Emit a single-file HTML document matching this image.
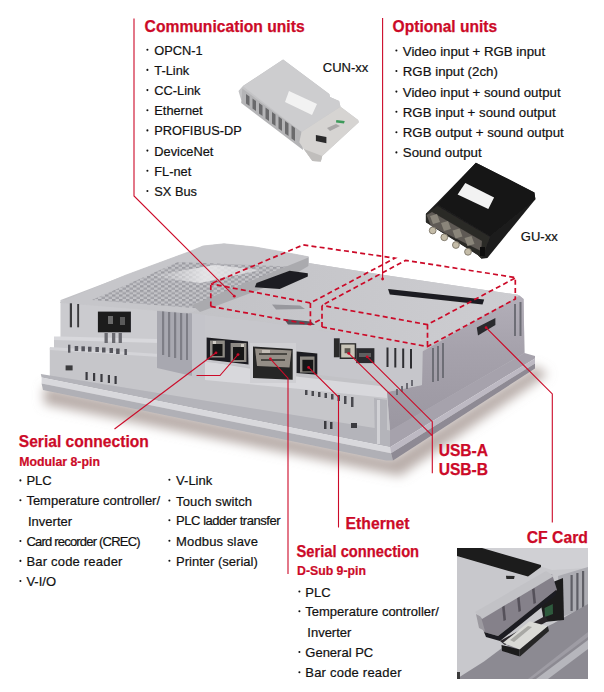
<!DOCTYPE html>
<html><head><meta charset="utf-8">
<style>
html,body{margin:0;padding:0;background:#fff;}
body{width:604px;height:692px;overflow:hidden;position:relative;}
svg{position:absolute;left:0;top:0;}
text{font-family:"Liberation Sans",sans-serif;}
.h{font-weight:bold;fill:#cc0a28;font-size:17px;stroke:#cc0a28;stroke-width:0.25px;}
.s{font-weight:bold;fill:#cc0a28;font-size:12.3px;stroke:#cc0a28;stroke-width:0.2px;}
.t{fill:#111;font-size:13px;stroke:#111;stroke-width:0.2px;}
.tl{font-size:12.8px;}
.tr{font-size:13.25px;}
.b{fill:#111;}
</style></head>
<body>
<svg width="604" height="692" viewBox="0 0 604 692">
<defs>
  <linearGradient id="gTop" x1="0" y1="0" x2="1" y2="0">
    <stop offset="0" stop-color="#c2c2c6"/><stop offset="1" stop-color="#cdcdd1"/>
  </linearGradient>
  <linearGradient id="gFront" x1="0" y1="0" x2="0" y2="1">
    <stop offset="0" stop-color="#c4c4c8"/><stop offset="1" stop-color="#b0b0b6"/>
  </linearGradient>
  <linearGradient id="gRight" gradientUnits="userSpaceOnUse" x1="0" y1="300" x2="0" y2="440">
    <stop offset="0" stop-color="#b2aeb8"/><stop offset="0.35" stop-color="#a6a2ac"/><stop offset="1" stop-color="#9a96a0"/>
  </linearGradient>
  <linearGradient id="gShadow" x1="0" y1="0" x2="0" y2="1">
    <stop offset="0" stop-color="#b8b4b6"/><stop offset="1" stop-color="#ffffff" stop-opacity="0"/>
  </linearGradient>
  <pattern id="vent" width="7" height="4.6" patternUnits="userSpaceOnUse">
    <rect width="7" height="4.6" fill="#c4c4c8"/><rect width="3.5" height="2.3" fill="#9c9ca2"/><rect x="3.5" y="2.3" width="3.5" height="2.3" fill="#a2a2a8"/>
  </pattern>
  <linearGradient id="gHi" x1="0" y1="0" x2="1" y2="0">
    <stop offset="0" stop-color="#e6e6e8" stop-opacity="0"/><stop offset="0.5" stop-color="#e8e8ea" stop-opacity="0.9"/><stop offset="1" stop-color="#e6e6e8" stop-opacity="0.6"/>
  </linearGradient>
  <filter id="blur6" x="-20%" y="-50%" width="140%" height="200%"><feGaussianBlur stdDeviation="5.5"/></filter>
  <filter id="soft" x="-5%" y="-5%" width="110%" height="110%"><feGaussianBlur stdDeviation="0.45"/></filter>
</defs>

<!-- ===== Device ===== -->
<g filter="url(#soft)">
<!-- soft shadow under bezel -->
<g filter="url(#blur6)">
<polygon points="44,386 392,458 535,366 548,374 400,476 44,404" fill="#b0a4a0" opacity="0.9"/>
</g>
<!-- base silhouette -->
<polygon points="60.7,300 125,275.4 190,251.4 203,246 224,243.8 255,247 280,251.4 308.4,256.8 308.4,263 382.6,274.8 517.8,294.8 523.6,299 524.5,356.8 390,446 49.9,376 49.9,348 54,348 54,337.2 60.7,337.2" fill="#c2c2c6"/>
<!-- right face (whole) -->
<polygon points="422.5,351.5 519.5,295.6 523.6,299 524.5,353 390,431 387,392 422,385" fill="url(#gRight)"/>
<!-- lower front face -->
<polygon points="49.9,348 160,356 207,362 387,392 390,431 49.9,375.5" fill="#c6c6ca"/>
<polygon points="54,338 160,342 160,356 54,348" fill="#c8c8cc"/>
<polygon points="49.9,347 160,354 160,357 49.9,350" fill="#d4d4d8"/>
<!-- ledge under connector face -->
<polygon points="205,361 300,377 380,386 387,392 387,398 300,389 205,380" fill="#d8d8dc"/>
<!-- connector face -->
<polygon points="188.7,313 265,322 426.5,346.5 422.5,351.5 422,385 387,392 380,382 207,362 188.7,358" fill="#c6c6cb"/>
<!-- left upper block front -->
<polygon points="60.7,300 160,309 160,339 60.7,337.2" fill="#cbcbcf"/>
<!-- left ledge -->
<polygon points="54,336.5 60.7,336.5 160,339 160,343 54,340" fill="#d8d8dc"/>
<!-- ribbed pillar -->
<polygon points="157,309 190,310.5 192,312 192,376 157,368" fill="#a8a8b0"/>
<g fill="#7e7e86">
<rect x="162" y="311" width="2.2" height="44"/><rect x="168" y="312" width="2.2" height="45"/><rect x="174" y="312" width="2.2" height="46"/><rect x="180" y="313" width="2.2" height="47"/><rect x="186" y="313" width="2" height="47"/>
</g>
<rect x="192" y="312" width="13" height="66" fill="#c4c4ca"/>
<!-- top right surface -->
<polygon points="188.7,313 308.4,263 382.6,274.8 517.8,294.8 519.5,295.6 426.5,346.5 265,322" fill="url(#gTop)"/>
<!-- vent block top -->
<polygon points="60.3,302.5 125,275.4 190,251.4 203,246 224,243.8 255,247 280,251.4 308.4,256.8 308.4,263 188.7,313" fill="#c6c6ca" stroke="#c6c6ca" stroke-width="0.8"/>
<polygon points="92,300 178,262 300,267 205,309" fill="url(#vent)"/>
<polygon points="150,276 215,265 260,270 200,283" fill="url(#gHi)"/>
<!-- comm slot -->
<polygon points="192,305 308.4,257.5 308.4,266 285,280 200,312" fill="#aaaaae"/>
<polygon points="256.5,283 289.6,270.7 307.8,273.2 307.8,276.5 279.7,288.9 254.8,287.3" fill="#1e1e22"/>
<polygon points="272,304.5 300,305.5 305,309 276,309.5" fill="#8c8c92" opacity="0.8"/>
<polygon points="284,319 311,321.5 315,325 288,324.5" fill="#55555c"/>
<!-- slot on right top -->
<polygon points="388.1,289 484.2,299.6 482.5,304.6 389.8,294.6" fill="#1e1e20"/>
<!-- bezel -->
<polygon points="40.8,374 49.9,375.5 390,430.5 390,447.3 41.6,377.6" fill="#b4b4ba"/>
<polygon points="41.6,377.6 390,447.3 391,453.3 41.6,383.6" fill="#d8d8dc"/>
<polygon points="41.6,383.6 391,453.3 393,460.5 386,460.5 43,390" fill="#b0b0b6"/>
<polygon points="390,430.5 524.5,353 535,356 535,358.4 390,447.3" fill="#a6a2ac"/>
<polygon points="390,447.3 535,358.4 535,363.4 391,453.3" fill="#bdb9c3"/>
<polygon points="391,453.3 535,363.4 535,368.5 393,460.5" fill="#8e8a94"/>

<!-- left details -->
<rect x="69.8" y="303.3" width="2.2" height="24" fill="#3a3a3e"/><rect x="77.2" y="304" width="1.9" height="23.3" fill="#3a3a3e"/>
<rect x="97.9" y="311.6" width="33" height="20.7" fill="#1c1c1e"/>
<rect x="108" y="316" width="5" height="8" fill="#6a6a6a"/><rect x="120" y="317" width="5" height="8" fill="#5a5a5a"/>
<g fill="#6a6a70"><rect x="104.5" y="333" width="3.3" height="10"/><rect x="112" y="333" width="3.3" height="10"/><rect x="118.6" y="333" width="3.3" height="10"/></g>
<g fill="#55555c"><rect x="68" y="344.7" width="2.4" height="8"/><rect x="74.7" y="346" width="3.5" height="5"/><rect x="81.4" y="346.3" width="3.5" height="5"/><rect x="88" y="346.7" width="3.5" height="5"/><rect x="95.4" y="347" width="3.5" height="5"/><rect x="102" y="347.5" width="3.5" height="5"/><rect x="109.5" y="348" width="3.5" height="5"/><rect x="116.1" y="348.5" width="3.5" height="5.5"/><rect x="124.4" y="349" width="2.5" height="6"/></g>
<rect x="65.6" y="365.4" width="7" height="5" fill="#3a3a3e"/>
<g fill="#3a3a40"><rect x="85.5" y="372" width="2.2" height="8"/><rect x="93" y="373" width="2.2" height="8"/><rect x="100.4" y="374" width="2.2" height="8"/><rect x="107.8" y="375" width="2.2" height="8"/><rect x="114.5" y="376" width="2.2" height="8"/></g>

<!-- connectors -->
<!-- RJ45 pair -->
<polygon points="206.6,337.5 248,341.5 248.5,364.5 206.6,359.5" fill="#1e1e20"/>
<rect x="210" y="340.5" width="14.8" height="17" fill="#8e8a84"/><rect x="212.5" y="344" width="10" height="12" fill="#141414"/>
<rect x="230.6" y="343" width="15.8" height="19" fill="#8e8a84"/><rect x="233" y="347" width="11" height="13" fill="#141414"/>
<rect x="213" y="341" width="3" height="3" fill="#d0ccc4"/><rect x="241" y="344" width="3" height="3" fill="#d0ccc4"/>
<!-- D-sub -->
<rect x="250" y="343" width="46" height="40" fill="#cfcfd3"/>
<polygon points="253,346.6 292.7,349 292.7,379.7 253,378" fill="#262626"/>
<polygon points="255,348.5 291.5,350.5 289.5,367.5 257,366" fill="#948e86"/>
<g fill="#4a4642"><rect x="259" y="353" width="28" height="2"/><rect x="261" y="359" width="24" height="2"/></g>
<rect x="262" y="350" width="8" height="3" fill="#c4beb6"/>
<!-- Ethernet RJ45 -->
<polygon points="296.6,351.5 317.3,353.5 317.3,374.7 296.6,373" fill="#1e1e20"/>
<rect x="300" y="356.5" width="14.5" height="16" fill="#8e8a84"/><rect x="302.4" y="359.8" width="10.8" height="11.6" fill="#141414"/>
<!-- USB -->
<rect x="333.9" y="338.3" width="5.8" height="19" fill="#2a2a2c"/>
<rect x="339.7" y="343.2" width="16.5" height="15.8" fill="#2a2a2a"/>
<rect x="341.2" y="344.5" width="13.5" height="13" fill="#c8c4b8"/>
<rect x="344.6" y="348.2" width="5.8" height="5" fill="#5a5650"/>
<rect x="356.2" y="348.2" width="18.2" height="14.9" fill="#2c2c2e"/>
<rect x="359" y="353" width="12" height="4" fill="#5e5e60"/>
<!-- right face details -->
<g fill="#6e6e76"><rect x="432" y="348" width="2" height="34"/><rect x="437" y="346" width="2" height="35"/><rect x="442" y="343" width="2" height="35"/>
<rect x="514" y="304" width="2" height="32"/><rect x="519.5" y="302" width="2" height="34"/></g>
<polygon points="476.8,327.5 495.4,318 495.4,325 478,335.5" fill="#2a2a2e"/>
<!-- lower front vents -->
<g fill="#4a4a50"><rect x="305" y="390" width="2.5" height="5"/><rect x="311.5" y="391" width="2.5" height="5"/><rect x="318" y="392" width="2.5" height="5"/><rect x="324.5" y="393" width="2.5" height="5"/><rect x="331" y="394" width="2.5" height="5.5"/><rect x="337.5" y="395" width="2.5" height="6"/><rect x="344" y="396" width="2.5" height="8"/><rect x="351" y="397" width="2.5" height="10"/></g>
<g fill="#3a3a40"><rect x="324" y="421" width="2.5" height="8"/><rect x="330" y="422" width="2.5" height="7"/><rect x="351" y="423" width="6" height="5"/></g>
<polygon points="374,398 387,400 387,446 375,443" fill="#b4b4ba"/>
<rect x="377" y="400" width="3" height="44" fill="#d2d2d6"/>
<g fill="#6a6a72"><rect x="396" y="389" width="2" height="6"/><rect x="401" y="386" width="2" height="6"/><rect x="406" y="383" width="2" height="6"/><rect x="411" y="380" width="2" height="6"/></g>
<!-- vents right of USB -->
<g fill="#2e2e32"><rect x="386.5" y="347.5" width="2" height="19.5"/><rect x="394.3" y="348" width="2" height="19.5"/><rect x="402.2" y="348.5" width="2" height="19.5"/><rect x="410" y="349" width="2" height="19.5"/></g>

</g>
<!-- ===== Dashed boxes ===== -->
<g fill="none" stroke="#cc0a28" stroke-width="1.7" stroke-dasharray="5,3.2">
  <polyline points="210.8,306.4 210.8,283.8 303.3,244.9 395,258.1 310.4,303 210.8,283.8"/>
  <polyline points="210.8,306.4 310.4,324.6 322,319"/>
  <line x1="310.4" y1="303" x2="310.4" y2="324.6"/>
  <polyline points="322,327 322,305.4 405.5,260.4 516,277.6 427.5,324.6 322,305.4"/>
  <polyline points="322,327 427.5,346.6 515.3,298.9 515.3,277.6"/>
  <line x1="427.5" y1="324.6" x2="427.5" y2="346.6"/>
</g>

<!-- ===== Red solid leader lines ===== -->
<g fill="none" stroke="#cc0a28" stroke-width="1.1">
  <polyline points="134,18.5 134,195.9 234.3,296.2"/>
  <polyline points="382.6,18 382.6,279"/>
  <polyline points="216,352.8 114.5,429"/>
  <polyline points="238,354.6 220,375.5 196.5,375.5"/>
  <polyline points="270.4,358.9 288,378.2 288,574"/>
  <polyline points="308.6,367.4 338.5,397 338.5,527.5"/>
  <polyline points="348.7,353.3 432.3,435.7"/>
  <polyline points="367.2,356.8 432.3,421.7 432.3,473.3"/>
  <polyline points="486.1,327.7 552.3,393.9 552.3,522.6"/>
</g>
<g fill="#cc0a28">
  <circle cx="234.3" cy="296.2" r="1.4"/><circle cx="382.6" cy="279" r="1.4"/><circle cx="216" cy="352.8" r="1.4"/><circle cx="238" cy="354.6" r="1.4"/>
  <circle cx="270.4" cy="358.9" r="1.4"/><circle cx="308.6" cy="367.4" r="1.4"/><circle cx="348.7" cy="353.3" r="1.4"/><circle cx="367.2" cy="356.8" r="1.4"/><circle cx="486.1" cy="327.7" r="1.4"/>
</g>

<!-- ===== CUN module ===== -->
<g filter="url(#soft)">
<polygon points="283.1,59.6 243.1,85.7 238.5,90.9 240.2,96.7 241.2,99.7 299.3,142.2 303.8,148.9 312.4,160.9 320.8,161.6 322.2,156 358.8,122.2 358.1,120.1 340.5,106.7 339.1,101.1 330,96.9 329.3,94.1" fill="#c4c4c6"/>
<!-- top face -->
<polygon points="283.1,59.6 243.1,86.3 301.5,132.1 340.5,106.7 339.1,101.1 330,96.9 329.3,94.1" fill="#cdcdcf"/>
<!-- rib face -->
<polygon points="242.3,88.5 301.5,132.1 303,150 241.2,103" fill="#b4b4b6"/>
<g fill="#6a6a6c">
<polygon points="246,94 249.5,96.5 249.5,106 246,103.5"/><polygon points="252.5,98.5 256,101 256,111 252.5,108.5"/>
<polygon points="259,103 262.5,105.5 262.5,116 259,113.5"/><polygon points="265.5,107.5 269,110 269,121 265.5,118.5"/>
<polygon points="272,112 275.5,114.5 275.5,126 272,123.5"/><polygon points="278.5,116.5 282,119 282,131 278.5,128.5"/>
<polygon points="285,121 288.5,123.5 288.5,136 285,133.5"/><polygon points="291.5,125.5 295,128 295,141 291.5,138.5"/>
</g>
<!-- connector section -->
<polygon points="301.5,132.1 340.5,106.7 358.1,120.1 358.8,122.2 322.2,156 320.8,161.6 312.4,160.9 303.8,148.9 299.3,142.2" fill="#d6d4d2"/>
<polygon points="303.8,148.9 322.2,156 320.8,161.6 312.4,160.9" fill="#c0bebc"/>
<polygon points="336.3,120.1 344.7,121 344,123.6 336,122.6" fill="#3c9a5a"/>
<polygon points="315.9,135 326.4,137 326.4,143.3 315.9,141" fill="#2a2a2c"/>
<polygon points="327,128 336,124 340,126 330,131" fill="#a8a6a6"/>
<!-- label -->
<polygon points="289,91 317,104 312,115 285,102" fill="#f2f2f2"/>
</g>

<!-- ===== GU module ===== -->
<g filter="url(#soft)">
<polygon points="475.9,162.8 500.8,175.3 508.5,179.1 534.4,192.6 535.4,199.3 487.4,257.9 481.6,258.8 477.8,255 425.9,222.3 425.9,213.7 437.4,202.2" fill="#1e1e1e"/>
<polygon points="475.9,162.8 534.4,192.6 535.4,199.3 490,236 437.4,204" fill="#161616"/>
<!-- connector face -->
<polygon points="425.9,213.7 437.4,206 490,237 481.6,258.8 477.8,255 425.9,222.3" fill="#2c2a28"/>
<polygon points="426.5,215 432,212 482,241 481,251 431,226" fill="#5e5a54"/>
<g fill="#8a857a"><polygon points="430,216 437,214 440,222 433,224"/><polygon points="441,223 448,221 451,229 444,231"/><polygon points="452.5,230.5 459.5,228.5 462.5,236.5 455.5,238.5"/><polygon points="464.5,238 471.5,236 474.5,244 467.5,246"/></g>
<g fill="#c4bca8" stroke="#7a7466" stroke-width="0.9">
<circle cx="432.7" cy="230.5" r="3.4"/><circle cx="444.3" cy="237.3" r="3.4"/><circle cx="455.9" cy="245" r="3.4"/><circle cx="468" cy="251.8" r="3.4"/>
</g>
<rect x="480" y="247" width="5" height="9" fill="#101010"/>
<!-- label -->
<polygon points="465.3,183 494.1,197.4 488.3,208.9 457.6,194.5" fill="#f2f2f2"/>
</g>

<!-- ===== CF photo ===== -->
<clipPath id="cfclip"><rect x="457" y="548" width="131" height="131"/></clipPath>
<g clip-path="url(#cfclip)"><g filter="url(#soft)">
<rect x="457" y="548" width="131" height="131" fill="#c8c8cc"/>
<polygon points="482,548 588,548 588,568 552,570" fill="#d0d0d4"/>
<!-- black band -->
<polygon points="457,548 482,548 541,565 541,567 528,576.6 457,556" fill="#1a1a1a"/>
<polygon points="506,575.7 514.7,576 514,579 506.4,579" fill="#2a2a2a"/>
<!-- right column with ribs -->
<polygon points="558,576 588,567 588,606 560,618" fill="#acacb2"/>
<g fill="#5e5e66"><rect x="570.5" y="575" width="2.2" height="36"/><rect x="576.3" y="573" width="2.2" height="38"/><rect x="582" y="571" width="2.2" height="38"/></g>
<!-- dark right face lower -->
<polygon points="457,679 459.5,677 484,661.5 502,648 553.3,623.5 588,604 588,679" fill="#8c8a92"/>
<!-- bezel stripe -->
<polygon points="536,679 588,640 588,649 548,679" fill="#b6b6bc"/>
<polygon points="528,679 588,632 588,637 532,679" fill="#9e9ca4"/>
<!-- dark recess -->
<polygon points="538,588 563,578 564,620 544,622" fill="#1c1c1e"/>
<polygon points="544.5,608 552.8,604 553,614 545,617" fill="#2f5a3c"/>
<!-- slot holder body -->
<polygon points="478,616 552,574 557,590 498,636 484,632" fill="#85818a"/>
<g fill="#55515a"><polygon points="502,606 504.5,605 506,620 503.5,621"/><polygon points="517,597 519.5,596 521,611 518.5,612"/><polygon points="532,589 534.5,588 536,603 533.5,604"/></g>
<polygon points="484,632 498,636 556,590 557,595 500,641 486,637" fill="#1e1e20"/>
<!-- slot holder top strip -->
<polygon points="475,612 546,571 554,576 482,619" fill="#c2c2c6"/>
<polygon points="476,614 481,617 485,631 479,628" fill="#9c9aa0"/>
<polygon points="500,641 545,616 548,621 505,645" fill="#2a282c"/>
<!-- CF card -->
<polygon points="503.1,642.8 529.6,621.3 547.8,626.2 519.7,649.4" fill="#dadad6"/>
<polygon points="510,640 528,626 532,627 514,642" fill="#a8a8a4"/>
<polygon points="501.5,645 519.7,649.4 519.7,656.5 502,651" fill="#1c1c1c"/>
<polygon points="519.7,649.4 547.8,626.2 549,631 520,656.5" fill="#262626"/>
<rect x="457" y="672" width="3" height="7" fill="#3a3a3a"/>
</g></g>

<!-- ===== Text ===== -->
<text class="h" x="144.6" y="31.5" textLength="160" lengthAdjust="spacingAndGlyphs">Communication units</text>
<g class="t tl">
<text x="154.3" y="54.8">OPCN-1</text>
<text x="154.3" y="74.9">T-Link</text>
<text x="154.3" y="95.1">CC-Link</text>
<text x="154.3" y="115.3">Ethernet</text>
<text x="154.3" y="135.4">PROFIBUS-DP</text>
<text x="154.3" y="155.6">DeviceNet</text>
<text x="154.3" y="175.8">FL-net</text>
<text x="154.3" y="196">SX Bus</text>
</g>
<text class="t" x="322.8" y="71.7">CUN-xx</text>

<text class="h" x="392.6" y="31.6" textLength="104.6" lengthAdjust="spacingAndGlyphs">Optional units</text>
<g class="t tr">
<text x="402.8" y="55.5">Video input + RGB input</text>
<text x="402.8" y="76">RGB input (2ch)</text>
<text x="402.8" y="96.6">Video input + sound output</text>
<text x="402.8" y="116.7">RGB input + sound output</text>
<text x="402.8" y="137.3">RGB output + sound output</text>
<text x="402.8" y="157.4">Sound output</text>
</g>
<text class="t" x="520.8" y="240.8">GU-xx</text>

<text class="h" x="18.8" y="447.2" textLength="130" lengthAdjust="spacingAndGlyphs">Serial connection</text>
<text class="s" x="19.3" y="465.5">Modular 8-pin</text>
<g class="t">
<text x="26.4" y="485.4">PLC</text>
<text x="26.4" y="505.3">Temperature controller/</text>
<text x="28" y="525.7">Inverter</text>
<text x="26.4" y="546" textLength="114.2">Card recorder (CREC)</text>
<text x="26.4" y="565.9" textLength="96">Bar code reader</text>
<text x="26.4" y="586">V-I/O</text>
<text x="176.1" y="484.8">V-Link</text>
<text x="176.1" y="505.5" textLength="76">Touch switch</text>
<text x="176.1" y="525.3" textLength="104.4">PLC ladder transfer</text>
<text x="176.1" y="545.7" textLength="81.8">Modbus slave</text>
<text x="176.1" y="565.7">Printer (serial)</text>
</g>

<text class="h" x="345.6" y="528.9" textLength="63.8" lengthAdjust="spacingAndGlyphs">Ethernet</text>
<text class="h" x="296.5" y="556.5" textLength="122.6" lengthAdjust="spacingAndGlyphs" style="font-size:16.4px">Serial connection</text>
<text class="s" x="297" y="574.5">D-Sub 9-pin</text>
<g class="t">
<text x="305.3" y="596.5">PLC</text>
<text x="305.3" y="616.2">Temperature controller/</text>
<text x="307.3" y="636.7">Inverter</text>
<text x="305.3" y="657">General PC</text>
<text x="305.3" y="677.2" textLength="96.2">Bar code reader</text>
</g>

<text class="h" x="438.7" y="455.8" textLength="49.4" lengthAdjust="spacingAndGlyphs" style="font-size:16.3px">USB-A</text>
<text class="h" x="438.7" y="475.3" textLength="49.4" lengthAdjust="spacingAndGlyphs" style="font-size:16.3px">USB-B</text>
<text class="h" x="526.7" y="542.8" textLength="61.3" lengthAdjust="spacingAndGlyphs">CF Card</text>

<!-- bullets -->
<g class="b">
<circle cx="147.4" cy="49.8" r="1.05"/><circle cx="147.4" cy="69.9" r="1.05"/><circle cx="147.4" cy="90.1" r="1.05"/><circle cx="147.4" cy="110.3" r="1.05"/>
<circle cx="147.4" cy="130.4" r="1.05"/><circle cx="147.4" cy="150.6" r="1.05"/><circle cx="147.4" cy="170.8" r="1.05"/><circle cx="147.4" cy="191.0" r="1.05"/>
<circle cx="396.4" cy="50.5" r="1.05"/><circle cx="396.4" cy="71.0" r="1.05"/><circle cx="396.4" cy="91.6" r="1.05"/><circle cx="396.4" cy="111.7" r="1.05"/><circle cx="396.4" cy="132.3" r="1.05"/><circle cx="396.4" cy="152.4" r="1.05"/>
<circle cx="20.4" cy="480.4" r="1.05"/><circle cx="20.4" cy="500.3" r="1.05"/><circle cx="20.4" cy="541.0" r="1.05"/><circle cx="20.4" cy="560.9" r="1.05"/><circle cx="20.4" cy="581.0" r="1.05"/>
<circle cx="169.4" cy="479.8" r="1.05"/><circle cx="169.4" cy="500.5" r="1.05"/><circle cx="169.4" cy="520.3" r="1.05"/><circle cx="169.4" cy="540.7" r="1.05"/><circle cx="169.4" cy="560.7" r="1.05"/>
<circle cx="299.4" cy="591.5" r="1.05"/><circle cx="299.4" cy="611.2" r="1.05"/><circle cx="299.4" cy="652.0" r="1.05"/><circle cx="299.4" cy="672.2" r="1.05"/>
</g>
</svg>
</body></html>
